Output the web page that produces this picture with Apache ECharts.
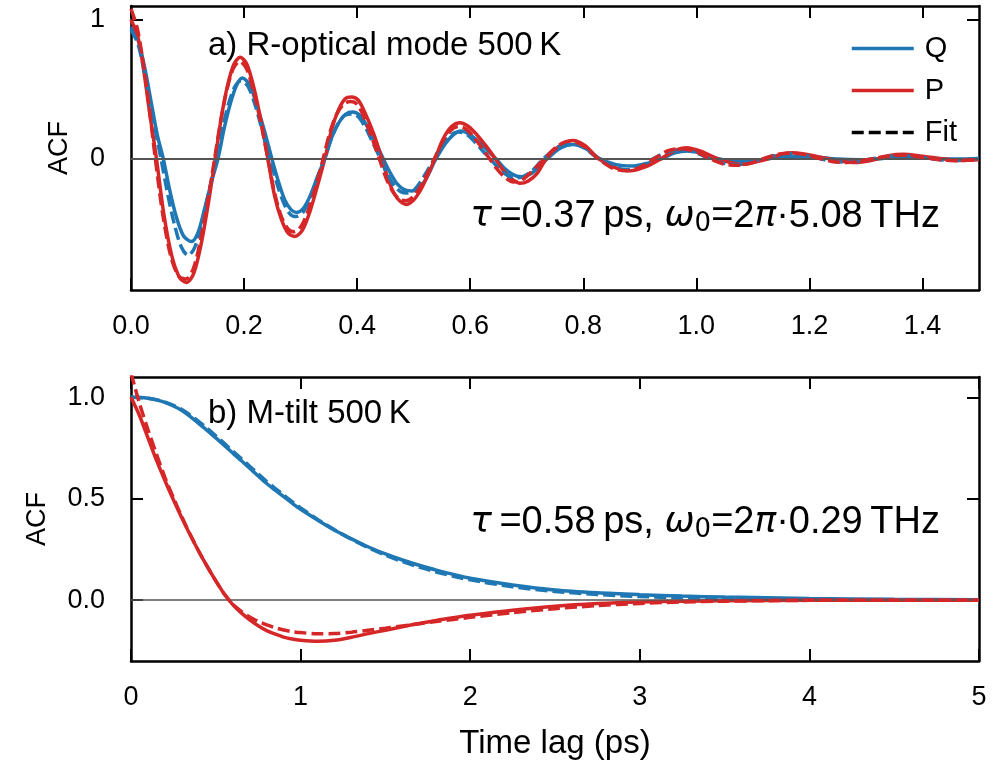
<!DOCTYPE html>
<html>
<head>
<meta charset="utf-8">
<script src="https://cdn.jsdelivr.net/npm/echarts@6/dist/echarts.min.js"></script>
<style>
html,body{margin:0;padding:0;background:#fff;}
#chart{width:998px;height:777px;}
</style>
</head>
<body>
<div id="chart"></div>
<script>
// ---------- Panel a) R-optical mode 500 K ----------
const topQTime = [0,0.012,0.024,0.036,0.047,0.057,0.068,0.080,0.093,0.107,0.119,0.131,0.143,0.154,0.165,0.176,0.187,0.197,0.210,0.222,0.236,0.249,0.261,0.272,0.283,0.293,0.305,0.318,0.330,0.343,0.356,0.368,0.380,0.392,0.405,0.418,0.432,0.446,0.458,0.470,0.483,0.4965,0.510,0.523,0.536,0.540,0.555,0.570,0.584,0.600,0.615,0.630,0.645,0.660,0.675,0.690,0.705,0.720,0.737,0.760,0.782,0.805,0.828,0.858,0.888,0.914,0.940,0.962,0.985,1.010,1.037,1.06,1.085,1.11,1.13,1.17,1.21,1.25,1.29,1.33,1.37,1.42,1.46,1.50];
const topQ = [0.95,0.86,0.66,0.40,0.16,0.00,-0.22,-0.42,-0.56,-0.60,-0.53,-0.35,-0.16,0.00,0.22,0.40,0.53,0.58,0.53,0.39,0.20,0.00,-0.17,-0.30,-0.37,-0.39,-0.36,-0.26,-0.13,0.00,0.16,0.26,0.32,0.334,0.31,0.23,0.12,0.00,-0.10,-0.18,-0.225,-0.236,-0.21,-0.14,-0.03,0.00,0.10,0.17,0.197,0.17,0.12,0.06,0.00,-0.07,-0.115,-0.132,-0.115,-0.07,0.00,0.075,0.10,0.07,0.00,-0.045,-0.055,-0.035,0.00,0.04,0.053,0.035,0.00,-0.015,-0.02,-0.01,0.00,0.015,0.01,-0.005,-0.01,0.0,0.01,0.0,-0.005,0.0];

const topQFitTime = [0,0.012,0.024,0.036,0.047,0.053,0.065,0.077,0.089,0.101,0.113,0.126,0.139,0.151,0.162,0.173,0.184,0.195,0.207,0.220,0.233,0.246,0.258,0.270,0.281,0.292,0.304,0.317,0.330,0.342,0.354,0.366,0.378,0.390,0.402,0.415,0.428,0.441,0.454,0.466,0.477,0.488,0.500,0.512,0.524,0.537,0.552,0.566,0.580,0.595,0.610,0.623,0.635,0.650,0.665,0.680,0.695,0.712,0.730,0.755,0.778,0.800,0.826,0.852,0.876,0.900,0.925,0.950,0.973,0.997,1.022,1.048,1.071,1.095,1.12,1.145,1.168,1.19,1.216,1.24,1.265,1.29,1.315,1.34,1.362,1.385,1.41,1.435,1.46,1.48,1.50];
const topQFit = [0.93,0.83,0.62,0.36,0.12,0.00,-0.26,-0.48,-0.64,-0.70,-0.64,-0.45,-0.22,0.00,0.22,0.40,0.52,0.56,0.52,0.38,0.19,0.00,-0.18,-0.32,-0.40,-0.42,-0.39,-0.28,-0.14,0.00,0.14,0.25,0.31,0.32,0.30,0.22,0.11,0.00,-0.12,-0.20,-0.24,-0.25,-0.23,-0.17,-0.09,0.00,0.10,0.17,0.19,0.17,0.11,0.05,0.00,-0.07,-0.12,-0.14,-0.13,-0.08,0.00,0.08,0.105,0.08,0.00,-0.06,-0.08,-0.06,0.00,0.05,0.06,0.045,0.00,-0.035,-0.045,-0.03,0.00,0.025,0.035,0.025,0.0,-0.02,-0.027,-0.018,0.0,0.015,0.02,0.014,0.0,-0.012,-0.015,-0.01,0.0];

const topPTime = [0,0.012,0.023,0.034,0.045,0.058,0.072,0.086,0.0985,0.111,0.124,0.137,0.149,0.160,0.171,0.182,0.193,0.205,0.218,0.230,0.242,0.254,0.266,0.278,0.290,0.303,0.316,0.329,0.343,0.355,0.367,0.379,0.390,0.402,0.416,0.430,0.4435,0.454,0.465,0.476,0.4865,0.500,0.512,0.525,0.538,0.552,0.567,0.582,0.597,0.612,0.628,0.644,0.659,0.674,0.688,0.702,0.718,0.735,0.758,0.782,0.804,0.826,0.855,0.883,0.911,0.939,0.961,0.983,1.009,1.036,1.060,1.083,1.106,1.13,1.15,1.171,1.20,1.23,1.255,1.284,1.32,1.34,1.366,1.40,1.43,1.466,1.50];
const topP = [1.00,0.88,0.62,0.30,0.00,-0.40,-0.70,-0.86,-0.895,-0.83,-0.62,-0.32,0.00,0.30,0.53,0.68,0.73,0.68,0.50,0.27,0.00,-0.27,-0.44,-0.54,-0.563,-0.52,-0.39,-0.21,0.00,0.21,0.35,0.43,0.443,0.42,0.31,0.17,0.00,-0.14,-0.25,-0.31,-0.332,-0.30,-0.23,-0.12,0.00,0.14,0.23,0.258,0.23,0.17,0.09,0.00,-0.09,-0.15,-0.18,-0.165,-0.11,0.00,0.09,0.13,0.09,0.00,-0.065,-0.09,-0.06,0.00,0.055,0.077,0.05,0.00,-0.03,-0.043,-0.025,0.00,0.03,0.04,0.025,0.0,-0.02,-0.03,-0.005,0.02,0.03,0.015,0.0,-0.015,-0.01];

const topPFitTime = [0,0.011,0.022,0.033,0.043,0.056,0.070,0.084,0.097,0.110,0.123,0.136,0.148,0.159,0.170,0.181,0.192,0.204,0.217,0.230,0.242,0.254,0.266,0.278,0.289,0.301,0.314,0.327,0.340,0.352,0.364,0.376,0.388,0.400,0.413,0.426,0.439,0.451,0.463,0.475,0.486,0.498,0.511,0.524,0.537,0.551,0.565,0.579,0.593,0.607,0.620,0.634,0.648,0.662,0.676,0.690,0.705,0.720,0.732,0.755,0.777,0.800,0.826,0.852,0.876,0.900,0.926,0.950,0.974,0.998,1.023,1.048,1.072,1.096,1.12,1.145,1.168,1.192,1.217,1.24,1.265,1.29,1.315,1.34,1.363,1.387,1.412,1.437,1.46,1.485,1.50];
const topPFit = [1.08,0.94,0.68,0.34,0.00,-0.40,-0.70,-0.85,-0.87,-0.80,-0.59,-0.30,0.00,0.28,0.50,0.65,0.70,0.65,0.48,0.25,0.00,-0.25,-0.42,-0.51,-0.53,-0.49,-0.37,-0.20,0.00,0.19,0.32,0.39,0.41,0.39,0.29,0.15,0.00,-0.14,-0.24,-0.295,-0.305,-0.28,-0.21,-0.11,0.00,0.12,0.20,0.23,0.21,0.15,0.08,0.00,-0.08,-0.14,-0.17,-0.16,-0.11,-0.05,0.00,0.09,0.125,0.09,0.00,-0.07,-0.09,-0.065,0.00,0.055,0.07,0.05,0.00,-0.04,-0.05,-0.035,0.00,0.03,0.038,0.027,0.0,-0.022,-0.03,-0.02,0.0,0.017,0.023,0.016,0.0,-0.013,-0.017,-0.012,-0.006];

// ---------- Panel b) M-tilt 500 K ----------
const botTime = [0,0.05,0.1,0.15,0.2,0.25,0.3,0.35,0.4,0.45,0.5,0.55,0.6,0.65,0.7,0.75,0.8,0.85,0.9,0.95,1.0,1.1,1.2,1.3,1.4,1.5,1.6,1.7,1.8,1.9,2.0,2.25,2.5,2.75,3.0,3.25,3.5,4.0,4.5,5.0];
const botQ    = [1.00,0.999,0.995,0.987,0.975,0.957,0.935,0.905,0.87,0.836,0.80,0.763,0.725,0.688,0.65,0.612,0.575,0.542,0.51,0.478,0.448,0.395,0.345,0.302,0.262,0.228,0.198,0.172,0.148,0.127,0.108,0.075,0.05,0.036,0.027,0.02,0.015,0.008,0.004,0.002];
const botQFit = [1.00,0.999,0.995,0.988,0.976,0.96,0.94,0.912,0.88,0.846,0.81,0.773,0.735,0.698,0.66,0.622,0.585,0.551,0.518,0.486,0.455,0.398,0.347,0.30,0.258,0.222,0.19,0.163,0.139,0.118,0.10,0.066,0.043,0.028,0.018,0.012,0.008,0.003,0.001,0.0];
const botP    = [1.00,0.91,0.80,0.69,0.59,0.495,0.405,0.32,0.24,0.165,0.095,0.03,-0.022,-0.063,-0.097,-0.126,-0.15,-0.167,-0.182,-0.192,-0.198,-0.203,-0.198,-0.183,-0.165,-0.148,-0.131,-0.115,-0.10,-0.087,-0.075,-0.05,-0.03,-0.017,-0.009,-0.005,-0.003,-0.001,0.0,0.0];
const botPFit = [1.12,0.97,0.84,0.72,0.605,0.505,0.41,0.322,0.24,0.165,0.095,0.03,-0.02,-0.055,-0.083,-0.105,-0.122,-0.136,-0.147,-0.155,-0.16,-0.166,-0.165,-0.158,-0.148,-0.138,-0.127,-0.116,-0.105,-0.095,-0.085,-0.062,-0.042,-0.027,-0.016,-0.009,-0.005,-0.001,0.0,0.0];

// ---------- Axis ticks ----------
const topXTicks = [0,0.2,0.4,0.6,0.8,1.0,1.2,1.4];
const topYTicks = [0,1];
const botXTicks = [0,1,2,3,4,5];
const botYTicks = [0,0.5,1.0];

const BLUE = '#1f77b4', RED = '#d62728';
const FONT = '"Liberation Sans", Arial, Helvetica, sans-serif';
const LW = 3.5;

function zip(t, v){ return t.map((x,i)=>[x, v[i]]); }

function frameAxis(gridIndex, pos, min, max, ticks, showLabels, fmt, extra){
  const ax = {
    type:'value', gridIndex:gridIndex, position:pos, min:min, max:max,
    axisLine:{show:true, onZero:false, lineStyle:{color:'#000', width:2.5}},
    axisTick:{show:true, inside:true, length:12, lineStyle:{color:'#000', width:2}, customValues:ticks},
    axisLabel:{show:showLabels, customValues:ticks, formatter:fmt, color:'#000', fontSize:27, fontFamily:FONT,
      margin:(pos==='left'||pos==='right') ? 26 : 23},
    splitLine:{show:false}
  };
  return Object.assign(ax, extra||{});
}

const chart = echarts.init(document.getElementById('chart'), null, {renderer:'canvas'});

function line(name, xi, yi, data, color, dashed, z){
  return {
    name:name, type:'line', xAxisIndex:xi, yAxisIndex:yi, data:data,
    showSymbol:false, symbol:'none', smooth:0.3, z:z, silent:true,
    lineStyle:{color:color, width:LW, type: dashed ? [12,5] : 'solid'},
    itemStyle:{color:color}
  };
}

function zeroLine(xi, yi, w){
  return {
    type:'line', xAxisIndex:xi, yAxisIndex:yi, data:[[0,0]], symbol:'none', z:1, silent:true,
    lineStyle:{width:0},
    markLine:{silent:true, symbol:'none', label:{show:false}, animation:false,
      lineStyle:{color:'#555', width:w, type:'solid'}, data:[{yAxis:0}]}
  };
}

const nameStyle = {color:'#000', fontSize:27, fontFamily:FONT};
const tauRich = {
  i:{fontStyle:'italic', fontFamily:'"DejaVu Sans", sans-serif', fontSize:36},
  s:{fontSize:26, fontFamily:'"DejaVu Sans", sans-serif', padding:[14,0,0,0]}
};

const option = {
  animation:false,
  backgroundColor:'#fff',
  textStyle:{fontFamily:FONT},
  grid:[
    {left:131, top:6, width:848, height:284, show:false},
    {left:131, top:377, width:848, height:284, show:false}
  ],
  xAxis:[
    frameAxis(0,'bottom',0,1.5,topXTicks,true,v=>v.toFixed(1)),
    frameAxis(0,'top',0,1.5,topXTicks,false,null),
    frameAxis(1,'bottom',0,5,botXTicks,true,v=>String(v),{
      name:'Time lag (ps)', nameLocation:'middle', nameGap:66,
      nameTextStyle:{color:'#000', fontSize:33, fontFamily:FONT}}),
    frameAxis(1,'top',0,5,botXTicks,false,null)
  ],
  yAxis:[
    frameAxis(0,'left',-0.95,1.1,topYTicks,true,v=>String(Math.round(v)),{
      name:'ACF', nameLocation:'middle', nameGap:58, nameRotate:90, nameTextStyle:nameStyle}),
    frameAxis(0,'right',-0.95,1.1,topYTicks,false,null),
    frameAxis(1,'left',-0.3,1.1,botYTicks,true,v=>v.toFixed(1),{
      name:'ACF', nameLocation:'middle', nameGap:80, nameRotate:90, nameTextStyle:nameStyle}),
    frameAxis(1,'right',-0.3,1.1,botYTicks,false,null)
  ],
  legend:{
    data:['Q','P','Fit'], orient:'vertical', left:845, top:29,
    itemWidth:62, itemHeight:28, itemGap:13,
    itemStyle:{opacity:0, borderWidth:0},
    lineStyle:{width:LW},
    textStyle:{color:'#000', fontSize:29, fontFamily:FONT, padding:[0,0,0,6]},
    selectedMode:false
  },
  series:[
    zeroLine(0,0,2),
    line('Q',0,0,zip(topQTime,topQ),BLUE,false,2),
    line('P',0,0,zip(topPTime,topP),RED,false,3),
    line('Q fit',0,0,zip(topQFitTime,topQFit),BLUE,true,4),
    line('P fit',0,0,zip(topPFitTime,topPFit),RED,true,5),
    {name:'Fit', type:'line', xAxisIndex:0, yAxisIndex:0, data:[], symbol:'none',
      lineStyle:{color:'#000', width:LW, type:[12,5]}, itemStyle:{color:'#000'}},
    zeroLine(2,2,1.5),
    line('Q',2,2,zip(botTime,botQ),BLUE,false,2),
    line('Q fit',2,2,zip(botTime,botQFit),BLUE,true,3),
    line('P',2,2,zip(botTime,botP),RED,false,4),
    line('P fit',2,2,zip(botTime,botPFit),RED,true,5)
  ],
  graphic:[
    {type:'text', left:208, top:29, z:10, style:{text:'a) R-optical mode 500\u2009K', fill:'#000', font:'33px '+FONT}},
    {type:'text', left:208, top:397, z:10, style:{text:'b) M-tilt 500\u2009K', fill:'#000', font:'33px '+FONT}},
    {type:'text', right:58, top:198, z:10, style:{
      text:'{i|τ}\u2009=0.37\u2009ps, {i|ω}{s|0}=2{i|π}·5.08\u2009THz', fill:'#000', font:'38px '+FONT, rich:tauRich}},
    {type:'text', right:58, top:504, z:10, style:{
      text:'{i|τ}\u2009=0.58\u2009ps, {i|ω}{s|0}=2{i|π}·0.29\u2009THz', fill:'#000', font:'38px '+FONT, rich:tauRich}}
  ]
};
chart.setOption(option);
</script>
</body>
</html>
